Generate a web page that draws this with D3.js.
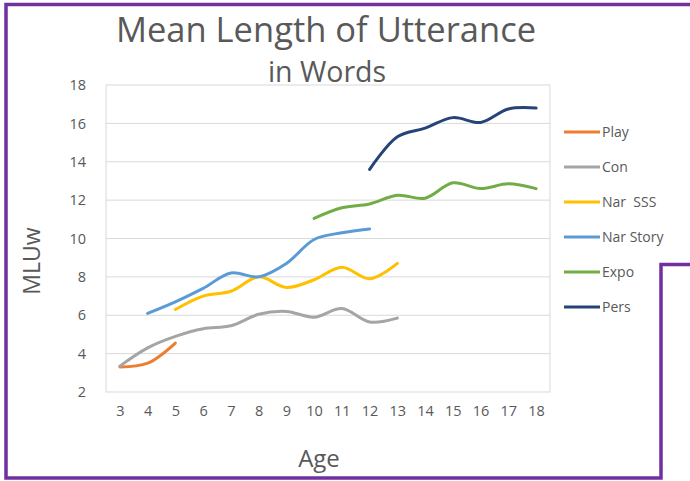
<!DOCTYPE html>
<html>
<head>
<meta charset="utf-8">
<script src="https://cdn.jsdelivr.net/npm/d3@7"></script>
<style>
  html, body { margin: 0; padding: 0; background: #fff; }
  svg { display: block; font-family: "Open Sans", sans-serif; }
</style>
</head>
<body>
<div id="chart"></div>
<script>
// ages on the x axis
const ages = [3, 4, 5, 6, 7, 8, 9, 10, 11, 12, 13, 14, 15, 16, 17, 18];
const yTicks = [2, 4, 6, 8, 10, 12, 14, 16, 18];

// MLUw per age, null where the series has no value
const play     = [3.3, 3.5, 4.55, null, null, null, null, null, null, null, null, null, null, null, null, null];
const con      = [3.35, 4.3, 4.9, 5.3, 5.45, 6.05, 6.2, 5.9, 6.35, 5.65, 5.85, null, null, null, null, null];
const narSSS   = [null, null, 6.3, 7.0, 7.25, 8.0, 7.45, 7.85, 8.5, 7.9, 8.7, null, null, null, null, null];
const narStory = [null, 6.1, 6.7, 7.4, 8.2, 8.0, 8.7, 9.95, 10.3, 10.5, null, null, null, null, null, null];
const expo     = [null, null, null, null, null, null, null, 11.05, 11.6, 11.8, 12.25, 12.1, 12.9, 12.6, 12.85, 12.6];
const pers     = [null, null, null, null, null, null, null, null, null, 13.6, 15.3, 15.75, 16.3, 16.05, 16.75, 16.8];

const seriesNames = ['Play', 'Con', 'Nar  SSS', 'Nar Story', 'Expo', 'Pers'];
const seriesValues = [play, con, narSSS, narStory, expo, pers];
const seriesColors = ['#ED7D31', '#A5A5A5', '#FFC000', '#5B9BD5', '#70AD47', '#264478'];

const width = 690, height = 481;
const plot = { left: 106, right: 550, top: 85, bottom: 392 };
const textColor = '#595959';

const svg = d3.select('#chart')
  .append('svg')
  .attr('width', width)
  .attr('height', height)
  .attr('viewBox', `0 0 ${width} ${height}`);

const x = d3.scalePoint()
  .domain(ages)
  .range([plot.left, plot.right])
  .padding(0.5);

const y = d3.scaleLinear()
  .domain([2, 18])
  .range([plot.bottom, plot.top]);

// gridlines
svg.append('g')
  .selectAll('line')
  .data(yTicks.slice(1, -1))
  .enter()
  .append('line')
  .attr('x1', plot.left)
  .attr('x2', plot.right)
  .attr('y1', d => y(d))
  .attr('y2', d => y(d))
  .attr('stroke', '#d9d9d9')
  .attr('stroke-width', 1);

// plot frame
svg.append('rect')
  .attr('x', plot.left)
  .attr('y', plot.top)
  .attr('width', plot.right - plot.left)
  .attr('height', plot.bottom - plot.top)
  .attr('fill', 'none')
  .attr('stroke', '#d9d9d9')
  .attr('stroke-width', 1);

// y axis labels
const yAxis = svg.append('g')
  .attr('transform', `translate(${plot.left - 20},0)`)
  .call(d3.axisLeft(y).tickValues(yTicks).tickSize(0).tickPadding(0));
yAxis.select('.domain').remove();
yAxis.selectAll('text')
  .attr('font-size', '14.5px')
  .attr('font-family', '"Open Sans", sans-serif')
  .attr('fill', textColor);

// x axis labels
const xAxis = svg.append('g')
  .attr('transform', `translate(0,${plot.bottom + 14})`)
  .call(d3.axisBottom(x).tickSize(0).tickPadding(0));
xAxis.select('.domain').remove();
xAxis.selectAll('text')
  .attr('font-size', '14.5px')
  .attr('font-family', '"Open Sans", sans-serif')
  .attr('fill', textColor);

// series lines
const line = d3.line()
  .defined(d => d.v !== null)
  .x(d => x(d.age))
  .y(d => y(d.v))
  .curve(d3.curveCatmullRom.alpha(0.5));

seriesValues.forEach((vals, i) => {
  const pts = vals.map((v, j) => ({ age: ages[j], v: v }));
  svg.append('path')
    .attr('d', line(pts))
    .attr('fill', 'none')
    .attr('stroke', seriesColors[i])
    .attr('stroke-width', 3)
    .attr('stroke-linecap', 'round');
});

// legend
const legend = svg.append('g');
seriesNames.forEach((name, i) => {
  const ly = 132 + i * 35;
  legend.append('line')
    .attr('x1', 564)
    .attr('x2', 600)
    .attr('y1', ly)
    .attr('y2', ly)
    .attr('stroke', seriesColors[i])
    .attr('stroke-width', 3);
  legend.append('text')
    .attr('x', 602)
    .attr('y', ly)
    .attr('dy', '0.35em')
    .attr('font-size', '14px')
    .attr('fill', textColor)
    .style('white-space', 'pre')
    .text(name);
});

// titles
svg.append('text')
  .attr('x', 326)
  .attr('y', 42)
  .attr('text-anchor', 'middle')
  .attr('font-size', '34.5px')
  .attr('fill', textColor)
  .text('Mean Length of Utterance');

svg.append('text')
  .attr('x', 327)
  .attr('y', 82)
  .attr('text-anchor', 'middle')
  .attr('font-size', '28.5px')
  .attr('fill', textColor)
  .text('in Words');

svg.append('text')
  .attr('x', 319)
  .attr('y', 467)
  .attr('text-anchor', 'middle')
  .attr('font-size', '24px')
  .attr('fill', textColor)
  .text('Age');

svg.append('text')
  .attr('transform', 'translate(40,261) rotate(-90)')
  .attr('text-anchor', 'middle')
  .attr('font-size', '23px')
  .attr('fill', textColor)
  .text('MLUw');

// purple slide frame
svg.append('path')
  .attr('d', 'M690,4.5 H6 V478 H661 V264.5 H690')
  .attr('fill', 'none')
  .attr('stroke', '#7030A0')
  .attr('stroke-width', 3.5);
</script>
</body>
</html>
